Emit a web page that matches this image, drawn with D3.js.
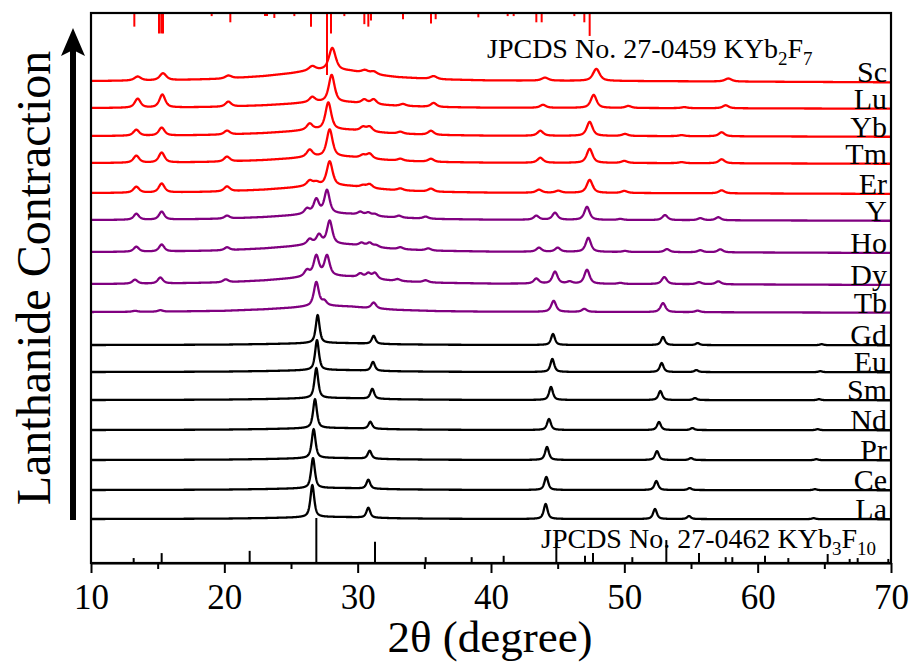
<!DOCTYPE html>
<html>
  <head>
    <script src="https://d3js.org/d3.v7.min.js" charset="utf-8"></script>
    <meta charset="UTF-8">
    <title>XRD lanthanide series</title>
    <style>
      body { margin: 0; background: #fff; }
      text { font-family: "Liberation Serif", "Times New Roman", serif; fill: #000; }
    </style>
  </head>
  <body>
    <svg class="chart"></svg>
    <script type="text/javascript">

     var width = 914,
         height = 662,
         plotLeft = 91, plotRight = 891, plotTop = 13, plotBottom = 563;

     // samples from top to bottom
     var samples = ["Sc", "Lu", "Yb", "Tm", "Er", "Y", "Ho", "Dy", "Tb",
                    "Gd", "Eu", "Sm", "Nd", "Pr", "Ce", "La"];
     var colors = ["red", "red", "red", "red", "red",
                   "purple", "purple", "purple", "purple",
                   "black", "black", "black", "black", "black", "black", "black"];
     // vertical offset of each pattern (a.u.)
     var offsets = [482, 455, 427, 400, 370, 343, 311, 279, 251, 218, 191, 163, 133, 103, 73, 44];
     // height of the amorphous hump under each pattern (a.u.)
     var humps = [11, 6, 6.5, 6.5, 7.5, 6.5, 8, 8, 6, 2, 2, 2, 2, 2, 2, 2];
     // peak width (FWHM, degree) of each pattern
     var fwhm = [0.6, 0.52, 0.52, 0.52, 0.52, 0.47, 0.47, 0.47, 0.44, 0.34, 0.34, 0.34, 0.34, 0.34, 0.34, 0.34];

     // shape of the hump
     var humpAngle = [10, 15, 20, 23, 25, 26.5, 28, 29.5, 31, 33, 36, 40, 50, 70];
     var humpLevel = [0, 0.05, 0.2, 0.45, 0.7, 0.95, 1, 0.9, 0.6, 0.35, 0.15, 0.05, 0, -0.12];

     // peaks [2theta, height]
     var peaksSc = [[13.5, 4], [15.4, 7], [20.3, 3], [26.6, 4], [28.1, 22], [30.55, 3], [31.2, 3],
                    [35.7, 3], [44.05, 3], [47.9, 12], [57.8, 3]];
     var peaksLu = [[13.5, 9], [15.35, 13], [20.3, 5], [26.6, 5], [28.05, 27], [30.5, 4], [31.2, 5],
                    [33.4, 2], [35.7, 4], [43.9, 3], [47.7, 13], [50.3, 2], [54.5, 1], [57.6, 3]];
     var peaksYb = [[13.4, 6], [15.3, 8], [20.2, 4], [26.4, 6], [27.8, 27], [30.4, 4], [30.9, 5],
                    [33.2, 2], [35.5, 4], [43.7, 5], [47.4, 14], [50.05, 2], [54.3, 1], [57.3, 4]];
     var peaksTm = [[13.4, 7], [15.3, 10], [20.2, 5], [26.4, 7], [27.9, 27], [30.4, 3], [30.9, 5],
                    [33.2, 2], [35.5, 3], [43.7, 5], [47.4, 14], [50.0, 2], [54.3, 1], [57.3, 4]];
     var peaksEr = [[13.4, 6], [15.3, 9], [20.2, 5], [26.4, 5], [26.9, 3], [27.9, 24], [30.4, 2],
                    [30.9, 4], [33.2, 2], [35.5, 3], [43.6, 3], [45.05, 2], [47.4, 13], [50.0, 2], [57.3, 3]];
     var peaksY = [[13.4, 6], [15.3, 8], [20.2, 3], [26.2, 5], [26.9, 14], [27.7, 23], [30.2, 3],
                   [30.8, 3], [31.3, 2], [33.1, 2], [35.1, 2], [43.4, 4], [44.8, 7], [47.2, 13],
                   [49.7, 1], [53.05, 5], [55.7, 2], [57.05, 3]];
     var peaksHo = [[13.4, 5], [15.3, 7], [20.2, 3], [26.4, 5], [27.1, 9], [27.9, 23], [30.3, 3],
                    [30.9, 4], [31.4, 2], [33.2, 2], [35.3, 2], [43.6, 4], [45.0, 4], [47.3, 14],
                    [50.05, 1], [53.2, 3], [55.7, 2], [57.2, 3]];
     var peaksDy = [[13.3, 4], [15.2, 6], [20.1, 3], [26.2, 6], [26.9, 20], [27.7, 20], [30.2, 4],
                    [30.8, 5], [31.3, 6], [33.0, 2], [35.1, 2], [43.4, 5], [44.8, 12], [45.9, 2],
                    [47.2, 14], [49.7, 1], [53.0, 7], [55.6, 2], [57.05, 3]];
     var peaksTb = [[13.3, 1], [15.2, 1.5], [26.9, 24], [27.5, 4.5], [31.2, 6], [44.7, 11], [47.0, 3],
                    [52.9, 9], [55.5, 1.5]];
     var peaksGd = [[27.0, 28], [31.2, 8], [44.65, 11], [52.9, 8], [55.5, 2], [64.8, 1]];
     var peaksEu = [[26.95, 30], [31.15, 9], [44.6, 13], [52.8, 9], [55.4, 2], [64.7, 1]];
     var peaksSm = [[26.9, 30], [31.1, 10], [44.5, 13], [52.7, 9], [55.3, 2], [64.6, 1]];
     var peaksNd = [[26.8, 29], [30.95, 7], [44.35, 11], [52.6, 8], [55.1, 2], [64.5, 1]];
     var peaksPr = [[26.7, 29], [30.9, 8], [44.2, 13], [52.45, 9], [55.0, 2], [64.4, 1]];
     var peaksCe = [[26.65, 30], [30.8, 9], [44.15, 13], [52.4, 9], [54.9, 2], [64.3, 1]];
     var peaksLa = [[26.6, 32], [30.8, 10], [44.1, 15], [52.3, 10], [54.85, 3], [64.2, 1]];
     var peakLists = [peaksSc, peaksLu, peaksYb, peaksTm, peaksEr, peaksY, peaksHo, peaksDy, peaksTb,
                      peaksGd, peaksEu, peaksSm, peaksNd, peaksPr, peaksCe, peaksLa];

     // standard card lines [2theta, relative intensity]
     var cardTop = [[13.25, 22], [15.1, 33], [15.27, 33], [15.4, 33], [19.05, 5], [20.45, 15],
                    [23.05, 5], [23.2, 5], [23.75, 8], [25.25, 5], [26.5, 22], [27.7, 100], [28.0, 33],
                    [29.0, 5], [30.5, 18], [30.8, 22], [31.0, 12], [33.4, 10], [35.5, 17], [35.85, 10],
                    [39.05, 7], [41.25, 5], [41.7, 5], [43.4, 15], [43.8, 15], [46.25, 5], [47.0, 15],
                    [47.4, 37]];
     var cardBottom = [[13.2, 11], [15.3, 22], [21.9, 27], [26.9, 100], [31.3, 47], [35.1, 13],
                       [38.55, 13], [40.95, 16], [44.9, 44], [47.05, 16], [47.65, 22], [50.6, 13],
                       [53.15, 51], [55.6, 22], [57.6, 13], [58.1, 13], [60.55, 16], [62.3, 11],
                       [65.25, 20], [66.9, 9], [67.5, 11], [69.8, 9]];

     var majorTicks = [10, 20, 30, 40, 50, 60, 70];
     var minorTicks = [15, 25, 35, 45, 55, 65];

     var chart = d3.select(".chart")
                   .attr("width", width)
                   .attr("height", height);

     var xScale = d3.scaleLinear().domain([10, 70]).range([plotLeft, plotRight]);
     var yScale = d3.scaleLinear().domain([0, plotBottom - plotTop]).range([plotBottom, plotTop]);
     var humpScale = d3.scaleLinear().domain(humpAngle).range(humpLevel);
     var topCard = d3.scaleLinear().domain([0, 100]).range([plotTop, plotTop + 62]);
     var bottomCard = d3.scaleLinear().domain([0, 100]).range([plotBottom, plotBottom - 45]);

     function peakSum(t, peaks, w) {
         var s = 0;
         peaks.forEach(function(p) {
             var u = 4 * (t - p[0]) * (t - p[0]) / (w * w);
             s += p[1] * (0.7 / (1 + u) + 0.3 * Math.exp(-Math.LN2 * u));
         });
         return s;
     }

     var angles = d3.range(10, 70.001, 0.02);

     var line = d3.line()
                  .x(function(d) { return xScale(d[0]); })
                  .y(function(d) { return yScale(d[1]); });

     var patterns = chart.append('g').attr("class", "patterns");

     samples.forEach(function(name, i) {
         var pts = angles.map(function(t) {
             return [t, offsets[i] + humps[i] * humpScale(t) + peakSum(t, peakLists[i], fwhm[i])];
         });
         patterns.append('path')
                 .datum(pts)
                 .attr("d", line)
                 .attr("fill", "none")
                 .attr("stroke", colors[i])
                 .attr("stroke-width", 2.3)
                 .attr("stroke-linejoin", "round");
     });

     // card lines
     chart.append('g').selectAll('line')
          .data(cardTop)
          .enter().append('line')
          .attr("x1", function(d) { return xScale(d[0]); })
          .attr("x2", function(d) { return xScale(d[0]); })
          .attr("y1", plotTop)
          .attr("y2", function(d) { return topCard(d[1]); })
          .attr("stroke", "red")
          .attr("stroke-width", 2);

     chart.append('g').selectAll('line')
          .data(cardBottom)
          .enter().append('line')
          .attr("x1", function(d) { return xScale(d[0]); })
          .attr("x2", function(d) { return xScale(d[0]); })
          .attr("y1", plotBottom)
          .attr("y2", function(d) { return bottomCard(d[1]); })
          .attr("stroke", "black")
          .attr("stroke-width", 2);

     // sample labels
     chart.append('g').selectAll('text')
          .data(samples)
          .enter().append('text')
          .attr("x", 887)
          .attr("y", function(d, i) { return yScale(offsets[i] + humps[i] * humpScale(70)); })
          .attr("text-anchor", "end")
          .style("font-size", "30px")
          .text(function(d) { return d; });

     // card captions
     var capTop = chart.append('text')
                       .attr("x", 487).attr("y", 58)
                       .style("font-size", "28px");
     capTop.append('tspan').text("JPCDS No. 27-0459 KYb");
     capTop.append('tspan').attr("dy", 7).style("font-size", "19px").text("2");
     capTop.append('tspan').attr("dy", -7).text("F");
     capTop.append('tspan').attr("dy", 7).style("font-size", "19px").text("7");

     var capBottom = chart.append('text')
                          .attr("x", 541).attr("y", 548)
                          .style("font-size", "28px");
     capBottom.append('tspan').text("JPCDS No. 27-0462 KYb");
     capBottom.append('tspan').attr("dy", 7).style("font-size", "19px").text("3");
     capBottom.append('tspan').attr("dy", -7).text("F");
     capBottom.append('tspan').attr("dy", 7).style("font-size", "19px").text("10");

     // frame and axis
     chart.append('rect')
          .attr("x", plotLeft).attr("y", plotTop)
          .attr("width", plotRight - plotLeft).attr("height", plotBottom - plotTop)
          .attr("fill", "none")
          .attr("stroke", "black")
          .attr("stroke-width", 2.2);

     var xAxis = chart.append('g')
                      .attr("transform", "translate(0," + plotBottom + ")")
                      .call(d3.axisBottom(xScale).tickValues(majorTicks)
                              .tickSize(10).tickSizeOuter(0).tickPadding(11)
                              .tickFormat(d3.format("d")));
     xAxis.select(".domain").attr("stroke-width", 2.2);
     xAxis.selectAll(".tick line").attr("stroke-width", 2);
     xAxis.selectAll(".tick text")
          .style("font-family", "'Liberation Serif', serif")
          .style("font-size", "35px");

     var xMinor = chart.append('g')
                       .attr("transform", "translate(0," + plotBottom + ")")
                       .call(d3.axisBottom(xScale).tickValues(minorTicks)
                               .tickSize(6).tickSizeOuter(0).tickFormat(""));
     xMinor.select(".domain").remove();
     xMinor.selectAll(".tick line").attr("stroke-width", 2);

     chart.append('text')
          .attr("x", 490).attr("y", 652)
          .attr("text-anchor", "middle")
          .style("font-size", "45px")
          .text("2\u03b8 (degree)");

     chart.append('text')
          .attr("transform", "translate(50,278) rotate(-90)")
          .attr("text-anchor", "middle")
          .style("font-size", "48px")
          .text("Lanthanide Contraction");

     // arrow
     chart.append('line')
          .attr("x1", 73).attr("x2", 73)
          .attr("y1", 520).attr("y2", 50)
          .attr("stroke", "black")
          .attr("stroke-width", 6);
     chart.append('path')
          .attr("d", "M73,28 L85,56 L73,50 L61,56 Z")
          .attr("fill", "black");

    </script>
  </body>
</html>
